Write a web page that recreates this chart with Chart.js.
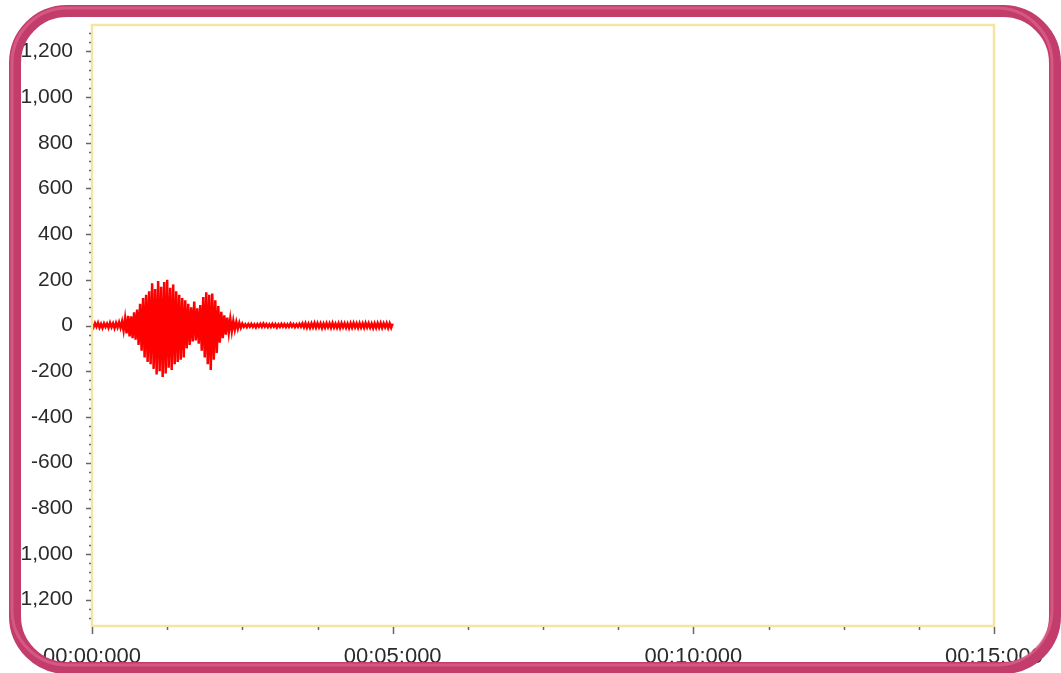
<!DOCTYPE html>
<html>
<head>
<meta charset="utf-8">
<script src="https://cdn.jsdelivr.net/npm/chart.js@4"></script>
<style>
  html, body { margin: 0; padding: 0; background: #ffffff; }
  #wrap { position: relative; width: 1061px; height: 673px; }
</style>
</head>
<body>
<div id="wrap"><canvas id="c" width="1061" height="673"></canvas></div>
<script>
// ---- data ----
const sampleStep = 0.025; // seconds between samples
const amplitudes = [
  6,-8,10,-5,12,-9,7,-11,9,-6, 8,-10,12,-7,9,-12,11,-8,14,-10,
  18,-22,30,-35,42,-48,40,-55,58,-62,
  70,-85,95,-110,120,-140,135,-160,150,-170,
  185,-190,160,-215,195,-200,170,-225,190,-210,
  200,-185,165,-195,180,-170,150,-160,135,-150,
  120,-140,110,-100,95,-85,80,-70,105,-65,
  75,-80,90,-110,125,-140,145,-170,135,-195,
  140,-150,110,-120,85,-75,60,-55,45,-40,
  35,-30,28,-25,20,-18,15,-14,12,-10,
  8,-6,5,-7,6,-5,7,-6,5,-8, 6,-5,7,-6,8,-5,6,-7,5,-6,
  7,-5,6,-8,5,-6,7,-5,6,-7, 5,-6,8,-5,6,-7,5,-6,7,-5,
  9,-8,10,-9,8,-10,9,-8,11,-9, 10,-8,9,-11,8,-9,10,-8,9,-10,
  11,-9,8,-10,9,-11,10,-8,9,-10, 8,-11,10,-9,11,-8,9,-10,10,-9,
  9,-10,11,-8,10,-9,8,-11,9,-10, 10,-9,11,-10,9,-8,10,-11,9,-10,
  8
];
const yTickValues = [-1200,-1000,-800,-600,-400,-200,0,200,400,600,800,1000,1200];
const xTickValues = [0,5,10,15];
const xTickLabels = ['00:00:000','00:05:000','00:10:000','00:15:000'];
const yMin = -1316, yMax = 1316;
const xMin = 0, xMax = 15;
const yMinorStep = 40, xMinorStep = 1.25;

const points = amplitudes.map((v, i) => ({ x: i * sampleStep, y: v }));

const framePlugin = {
  id: 'frame',
  beforeDraw(chart) {
    const ctx = chart.ctx;
    ctx.save();
    ctx.fillStyle = '#ffffff';
    ctx.fillRect(0, 0, chart.width, chart.height);
    ctx.restore();
  },
  afterDraw(chart) {
    const ctx = chart.ctx;
    const a = chart.chartArea;
    const xs = chart.scales.x, ys = chart.scales.y;
    ctx.save();
    // plot border
    ctx.strokeStyle = '#f2e6a2';
    ctx.lineWidth = 2.5;
    ctx.strokeRect(a.left, a.top, a.right - a.left, a.bottom - a.top);
    // ticks
    ctx.strokeStyle = '#666666';
    ctx.lineWidth = 1.5;
    ctx.beginPath();
    for (let v = Math.ceil(yMin / yMinorStep) * yMinorStep; v <= yMax; v += yMinorStep) {
      const y = Math.round(ys.getPixelForValue(v)) + 0.5;
      const major = v % 200 === 0;
      ctx.moveTo(a.left - 1, y);
      ctx.lineTo(a.left - (major ? 6 : 3), y);
    }
    for (let v = xMin; v <= xMax + 1e-9; v += xMinorStep) {
      const x = Math.round(xs.getPixelForValue(v)) + 0.5;
      const major = Math.abs(v % 5) < 1e-9;
      ctx.moveTo(x, a.bottom + 1);
      ctx.lineTo(x, a.bottom + (major ? 8 : 4));
    }
    ctx.stroke();
    // outer rounded frame
    const W = chart.width, H = chart.height;
    ctx.beginPath();
    ctx.roundRect(15, 11, W - 6 - 15, H - 5 - 11, 52);
    ctx.strokeStyle = '#c23d6b';
    ctx.lineWidth = 12;
    ctx.stroke();
    ctx.beginPath();
    ctx.roundRect(12, 8, W - 9 - 12, H - 8 - 8, 55);
    ctx.strokeStyle = 'rgba(230,110,150,0.55)';
    ctx.lineWidth = 3;
    ctx.stroke();
    ctx.restore();
  }
};

new Chart(document.getElementById('c'), {
  type: 'line',
  data: {
    datasets: [{
      data: points,
      borderColor: '#ff0000',
      borderWidth: 2.5,
      pointRadius: 0,
      tension: 0,
      fill: false
    }]
  },
  options: {
    responsive: false,
    animation: false,
    parsing: true,
    layout: { padding: { left: 0, top: 25, right: 67, bottom: 0 } },
    plugins: { legend: { display: false }, tooltip: { enabled: false } },
    scales: {
      x: {
        type: 'linear',
        min: xMin, max: xMax,
        afterBuildTicks: s => { s.ticks = xTickValues.map(v => ({ value: v })); },
        afterFit: s => { s.height = 47; s.paddingLeft = 0; s.paddingRight = 0; },
        grid: { display: false, drawTicks: false },
        border: { display: false },
        ticks: {
          maxRotation: 0, autoSkip: false, padding: 18,
          color: '#2a2a2a',
          font: { family: 'Liberation Sans, Arial, sans-serif', size: 22 },
          callback: v => { const i = xTickValues.indexOf(v); return i >= 0 ? xTickLabels[i] : ''; }
        }
      },
      y: {
        min: yMin, max: yMax,
        afterBuildTicks: s => { s.ticks = yTickValues.map(v => ({ value: v })); },
        afterFit: s => { s.width = 92; s.paddingTop = 0; s.paddingBottom = 0; },
        grid: { display: false, drawTicks: false },
        border: { display: false },
        ticks: {
          padding: 19, autoSkip: false,
          color: '#2a2a2a',
          font: { family: 'Liberation Sans, Arial, sans-serif', size: 21 },
          callback: v => v.toLocaleString('en-US')
        }
      }
    }
  },
  plugins: [framePlugin]
});
</script>
</body>
</html>
